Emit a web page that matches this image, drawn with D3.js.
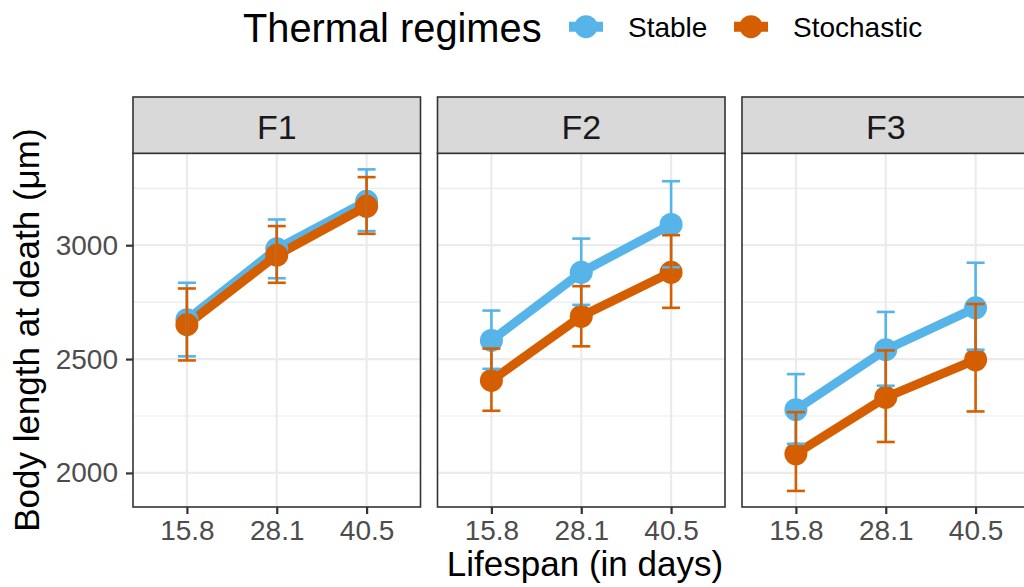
<!DOCTYPE html>
<html>
<head>
<meta charset="utf-8">
<script src="https://cdn.jsdelivr.net/npm/d3@7"></script>
<style>
  body { margin: 0; background: #fff; }
  svg { display: block; font-family: "Liberation Sans", Arial, sans-serif; }
</style>
</head>
<body>
<svg id="chart" width="1024" height="587"></svg>
<script>
// Facets, x categories and groups
const generations = ['F1', 'F2', 'F3'];
const lifespans = ['15.8', '28.1', '40.5'];
const regimes = ['Stable', 'Stochastic'];

// Means and error bar limits, one row per generation
const stableMean = [[2673, 2984, 3193], [2582, 2881, 3091], [2278, 2541, 2725]];
const stableLower = [[2512, 2855, 3062], [2457, 2738, 2903], [2128, 2383, 2541]];
const stableUpper = [[2835, 3113, 3333], [2713, 3029, 3281], [2434, 2707, 2923]];

const stochasticMean = [[2651, 2956, 3171], [2406, 2688, 2881], [2084, 2332, 2497]];
const stochasticLower = [[2494, 2835, 3050], [2273, 2556, 2725], [1921, 2136, 2270]];
const stochasticUpper = [[2810, 3084, 3299], [2546, 2820, 3044], [2267, 2538, 2742]];

const yMajor = [2000, 2500, 3000];
const yMinor = [2250, 2750, 3250];

const colour = d3.scaleOrdinal().domain(regimes).range(['#56B4E9', '#D55E00']);

// Long format rows built from the arrays above
const series = {
  Stable: {mean: stableMean, lower: stableLower, upper: stableUpper},
  Stochastic: {mean: stochasticMean, lower: stochasticLower, upper: stochasticUpper}
};
const rows = [];
generations.forEach((g, gi) => regimes.forEach((r) => lifespans.forEach((l, li) => {
  rows.push({gen: g, regime: r, life: l,
    mean: series[r].mean[gi][li], lower: series[r].lower[gi][li], upper: series[r].upper[gi][li]});
})));

const svg = d3.select('#chart');

const plotTop = 153.3, plotBottom = 507, stripTop = 97;
const panelWidth = 287.5, gap = 17;

const facet = d3.scaleBand().domain(generations).
  range([133, 133 + 3 * panelWidth + 2 * gap]).
  paddingInner(gap / (panelWidth + gap)).paddingOuter(0);

const x = d3.scalePoint().domain(lifespans).range([0, facet.bandwidth()]).padding(0.6);

// ggplot style 5% expansion around the data range
const lo = d3.min(rows, (d) => d.lower), hi = d3.max(rows, (d) => d.upper);
const pad = (hi - lo) * 0.05;
const y = d3.scaleLinear().domain([lo - pad, hi + pad]).range([plotBottom, plotTop]);

// Legend
const legend = svg.append('g');
legend.append('text').
  attr('x', 243).attr('y', 41.5).
  attr('font-size', 39.8).attr('fill', '#000').
  text('Thermal regimes');
const keyX = [586, 751], labelX = [628, 793];
regimes.forEach((r, i) => {
  legend.append('line').
    attr('x1', keyX[i] - 17).attr('x2', keyX[i] + 17).
    attr('y1', 26.7).attr('y2', 26.7).
    attr('stroke', colour(r)).attr('stroke-width', 10);
  legend.append('circle').
    attr('cx', keyX[i]).attr('cy', 26.7).attr('r', 11.5).
    attr('fill', colour(r));
  legend.append('text').
    attr('x', labelX[i]).attr('y', 36.7).
    attr('font-size', 28).attr('fill', '#000').
    text(r);
});

// One group per facet panel
const panels = svg.selectAll('.panel').data(generations).enter().
  append('g').
    attr('class', 'panel').
    attr('transform', (g) => `translate(${facet(g)},0)`);

panels.append('rect').
  attr('y', plotTop).attr('width', facet.bandwidth()).attr('height', plotBottom - plotTop).
  attr('fill', '#fff');

// Grid
panels.each(function() {
  const p = d3.select(this);
  p.selectAll('.minor').data(yMinor).enter().append('line').
    attr('x1', 0).attr('x2', facet.bandwidth()).
    attr('y1', (v) => y(v)).attr('y2', (v) => y(v)).
    attr('stroke', '#EBEBEB').attr('stroke-width', 1.2);
  p.selectAll('.majorY').data(yMajor).enter().append('line').
    attr('x1', 0).attr('x2', facet.bandwidth()).
    attr('y1', (v) => y(v)).attr('y2', (v) => y(v)).
    attr('stroke', '#EBEBEB').attr('stroke-width', 2.2);
  p.selectAll('.majorX').data(lifespans).enter().append('line').
    attr('x1', (l) => x(l)).attr('x2', (l) => x(l)).
    attr('y1', plotTop).attr('y2', plotBottom).
    attr('stroke', '#EBEBEB').attr('stroke-width', 2.2);
});

const line = d3.line().x((d) => x(d.life)).y((d) => y(d.mean));

// Lines, then points, then error bars
panels.each(function(g) {
  const p = d3.select(this);
  const data = rows.filter((d) => d.gen === g);
  regimes.forEach((r) => {
    p.append('path').
      datum(data.filter((d) => d.regime === r)).
      attr('d', line).
      attr('fill', 'none').
      attr('stroke', colour(r)).
      attr('stroke-width', 9).
      attr('stroke-linejoin', 'round');
  });
  regimes.forEach((r) => {
    p.selectAll(null).data(data.filter((d) => d.regime === r)).enter().append('circle').
      attr('cx', (d) => x(d.life)).attr('cy', (d) => y(d.mean)).attr('r', 11.5).
      attr('fill', colour(r));
  });
  regimes.forEach((r) => {
    const bars = p.selectAll(null).data(data.filter((d) => d.regime === r)).enter().append('g').
      attr('stroke', colour(r)).attr('stroke-width', 2.6);
    bars.append('line').
      attr('x1', (d) => x(d.life)).attr('x2', (d) => x(d.life)).
      attr('y1', (d) => y(d.lower)).attr('y2', (d) => y(d.upper));
    bars.append('line').
      attr('x1', (d) => x(d.life) - 9).attr('x2', (d) => x(d.life) + 9).
      attr('y1', (d) => y(d.lower)).attr('y2', (d) => y(d.lower));
    bars.append('line').
      attr('x1', (d) => x(d.life) - 9).attr('x2', (d) => x(d.life) + 9).
      attr('y1', (d) => y(d.upper)).attr('y2', (d) => y(d.upper));
  });
});

// Panel border and strip
panels.append('rect').
  attr('y', plotTop).attr('width', facet.bandwidth()).attr('height', plotBottom - plotTop).
  attr('fill', 'none').attr('stroke', '#333333').attr('stroke-width', 1.6);
panels.append('rect').
  attr('y', stripTop).attr('width', facet.bandwidth()).attr('height', plotTop - stripTop).
  attr('fill', '#D9D9D9').attr('stroke', '#333333').attr('stroke-width', 1.6);
panels.append('text').
  attr('x', facet.bandwidth() / 2).attr('y', 138.5).
  attr('text-anchor', 'middle').attr('font-size', 34).attr('fill', '#1A1A1A').
  text((g) => g);

// Bottom axis on each panel
panels.append('g').
  attr('transform', `translate(0,${plotBottom})`).
  call(d3.axisBottom(x).tickSize(7).tickPadding(6)).
  call((a) => {
    a.select('.domain').remove();
    a.selectAll('.tick line').attr('stroke', '#333333').attr('stroke-width', 2.2);
    a.selectAll('.tick text').attr('font-size', 28).attr('fill', '#4D4D4D').
      attr('font-family', '"Liberation Sans", Arial, sans-serif');
  });

// Left axis on first panel
svg.append('g').
  attr('transform', `translate(${facet(generations[0])},0)`).
  call(d3.axisLeft(y).tickValues(yMajor).tickFormat(d3.format('d')).tickSize(7).tickPadding(8)).
  call((a) => {
    a.select('.domain').remove();
    a.selectAll('.tick line').attr('stroke', '#333333').attr('stroke-width', 2.2);
    a.selectAll('.tick text').attr('font-size', 28).attr('fill', '#4D4D4D').
      attr('font-family', '"Liberation Sans", Arial, sans-serif');
  });

// Axis titles
svg.append('text').
  attr('x', 585).attr('y', 576).
  attr('text-anchor', 'middle').attr('font-size', 35).attr('fill', '#000').
  text('Lifespan (in days)');
svg.append('text').
  attr('transform', `translate(39,${(plotTop + plotBottom) / 2}) rotate(-90)`).
  attr('text-anchor', 'middle').attr('font-size', 35).attr('fill', '#000').
  text('Body length at death (μm)');
</script>
</body>
</html>
